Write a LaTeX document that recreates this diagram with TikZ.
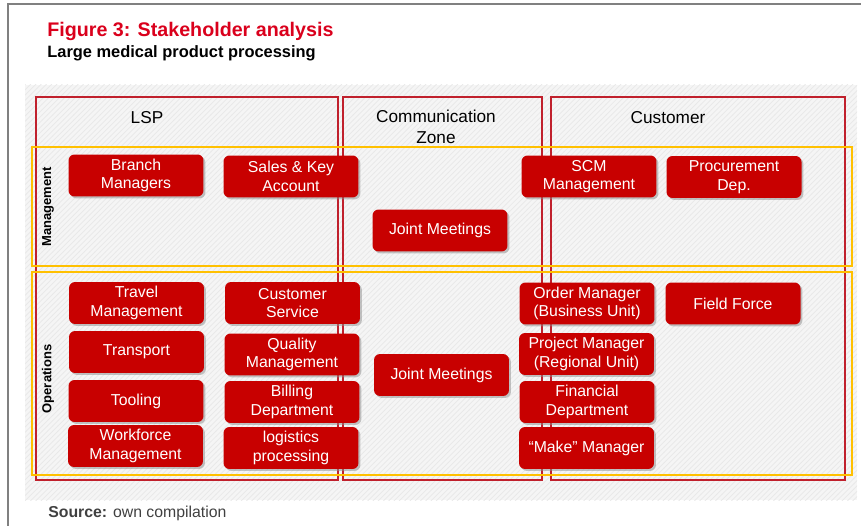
\documentclass[tikz,border=0pt]{standalone}
\usepackage{fontspec}
\setmainfont{Liberation Sans}
\usetikzlibrary{patterns,shadows}
\definecolor{boxred}{RGB}{200,0,0}
\definecolor{linered}{RGB}{192,32,44}
\definecolor{rowgold}{RGB}{255,192,0}
\definecolor{titlered}{RGB}{218,0,28}
\tikzset{
	unit/.style={draw=none, fill=boxred, rounded corners=3.4pt, text=white, align=center,
		minimum width=2.7cm, minimum height=0.84cm, inner sep=0pt,
		font=\fontsize{9}{10.6}\selectfont,
		drop shadow={shadow xshift=1.1pt, shadow yshift=-1.1pt, fill=black!45, opacity=0.5}},
	column/.style={draw=linered, line width=1.2pt},
	level/.style={draw=rowgold, line width=1.2pt},
	heading/.style={align=center, font=\fontsize{9.8}{11.9}\selectfont},
	rowlabel/.style={rotate=90, font=\bfseries\fontsize{7.4}{8.5}\selectfont}
}

\begin{document}
\begin{tikzpicture}[x=0.02cm, y=-0.02cm]
				\useasboundingbox (0,0) rectangle (861,526);
				\draw[black!50, line width=1pt] (8,526) -- (8,4) -- (861,4);
				
				\node[anchor=base west, text=titlered, font=\bfseries\fontsize{11.2}{13}\selectfont, inner sep=0pt] (title) at (47,36.5) {Figure 3: Stakeholder analysis};
				\node[anchor=base west, font=\bfseries\fontsize{9.35}{11}\selectfont, inner sep=0pt] (subtitle) at (47,58) {Large medical product processing};
				
				\fill[black!4] (25,85) rectangle (857,500);
				\fill[pattern=north east lines, pattern color=black!9] (25,85) rectangle (857,500);
				
				\draw[column] (36,97) rectangle (338,480);
				\draw[column] (343,97) rectangle (542,480);
				\draw[column] (551,97) rectangle (845,480);
				
				\node[heading] (lsp) at (147,118) {LSP};
				\node[heading] (zone) at (436,127) {Communication\\Zone};
				\node[heading] (customer) at (668,118) {Customer};
				
				\draw[level] (32,147) rectangle (852,266);
				\draw[level] (32,272) rectangle (852,475);
				
				\node[rowlabel] (management) at (48,207) {Management};
				\node[rowlabel] (operations) at (48,379) {Operations};
				
				\node[unit] (branch) at (136,175.5) {Branch\\Managers};
				\node[unit] (saleskey) at (291,176.5) {Sales \& Key\\Account};
				\node[unit] (scm) at (589,176.5) {SCM\\Management};
				\node[unit] (procurement) at (734,177) {Procurement\\Dep.};
				\node[unit] (jointmgmt) at (440,230.5) {Joint Meetings};
				
				\node[unit] (travel) at (136.5,303) {Travel\\Management};
				\node[unit] (custservice) at (292.5,303) {Customer\\Service};
				\node[unit] (transport) at (136.5,352) {Transport};
				\node[unit] (quality) at (292,354.5) {Quality\\Management};
				\node[unit] (tooling) at (136,401) {Tooling};
				\node[unit] (billing) at (292,402) {Billing\\Department};
				\node[unit] (workforce) at (135.5,446) {Workforce\\Management};
				\node[unit] (logistics) at (291,448) {logistics\\processing};
				\node[unit] (jointops) at (441.5,375) {Joint Meetings};
				\node[unit] (ordermgr) at (587,303.5) {Order Manager\\(Business Unit)};
				\node[unit] (fieldforce) at (733,303.5) {Field Force};
				\node[unit] (projectmgr) at (586.5,354) {Project Manager\\(Regional Unit)};
				\node[unit] (financial) at (587,402) {Financial\\Department};
				\node[unit] (makemgr) at (586.5,448) {“Make” Manager};
				
				\node[anchor=base west, text=black!75, font=\fontsize{9}{11}\selectfont, inner sep=0pt] (source) at (48,517) {\textbf{Source:} own compilation};
			\end{tikzpicture}
\end{document}
